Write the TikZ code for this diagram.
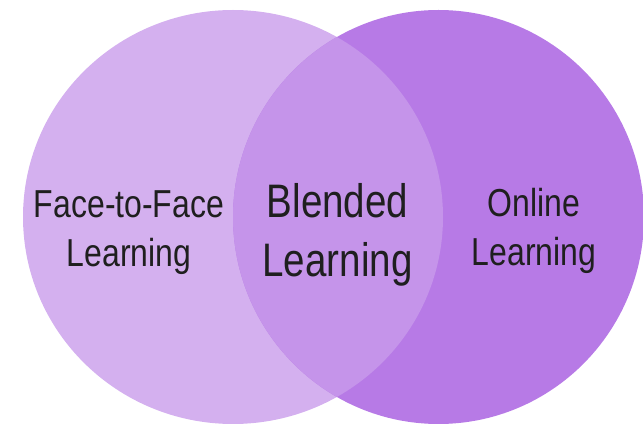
\documentclass[tikz,border=0pt]{standalone}
\usepackage{fontspec}
\setmainfont{Liberation Sans}[FakeStretch=0.82]
\definecolor{faceviolet}{HTML}{D4B0EF}
\definecolor{onlineviolet}{HTML}{B77AE6}
\definecolor{blendviolet}{HTML}{C594EA}

\begin{document}
\begin{tikzpicture}
[x=1pt, y=-1pt,
  inner sep=0pt, align=center, text=black!88,
  small label/.style={font=\fontsize{39}{49}\selectfont},
  big label/.style={font=\fontsize{47}{59}\selectfont}]
  \useasboundingbox (0,0) rectangle (643,427);
  \fill[faceviolet] (233,217) ellipse [x radius=210pt, y radius=207pt];
  \fill[onlineviolet] (438.5,217) ellipse [x radius=205.5pt, y radius=207pt];
  \begin{scope}
    \clip (233,217) ellipse [x radius=210pt, y radius=207pt];
    \fill[blendviolet] (438.5,217) ellipse [x radius=205.5pt, y radius=207pt];
  \end{scope}
  \node[small label] (face) at (129,233) {Face-to-Face\\Learning};
  \node[big label] (blended) at (337.5,234.5) {Blended\\Learning};
  \node[small label] (online) at (534,231) {Online\\Learning};
\end{tikzpicture}
\end{document}
